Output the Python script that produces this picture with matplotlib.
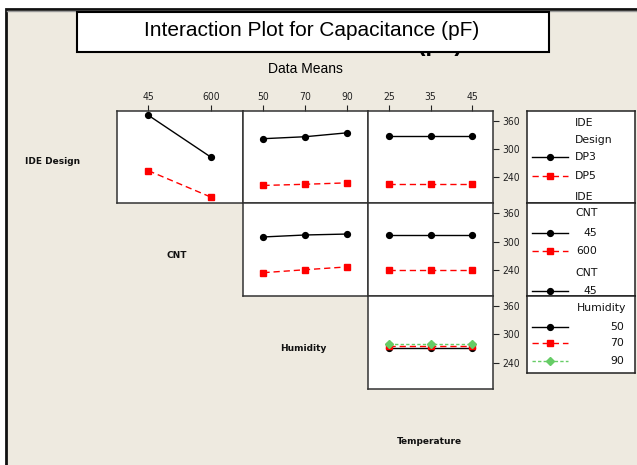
import matplotlib.pyplot as plt
from matplotlib.lines import Line2D
from matplotlib.patches import Rectangle
from matplotlib.transforms import Bbox

W, H = 637, 465

factor_names = ['IDE Design', 'CNT', 'Humidity', 'Temperature']
ide_levels = ['DP3', 'DP5']
cnt_levels = [45, 600]
hum_levels = [50, 70, 90]
temp_levels = [25, 35, 45]

# data means: one list per trace level, one value per x level
ide_cnt = [[371.3, 281.9], [253.4, 197.0]]
ide_hum = [[321.5, 325.7, 334.0], [222.0, 224.5, 227.5]]
ide_temp = [[327.2, 327.2, 327.2], [225.1, 225.1, 225.1]]
cnt_hum = [[309.8, 314.0, 316.0], [233.7, 240.0, 246.0]]
cnt_temp = [[314.0, 314.0, 314.0], [240.0, 240.0, 240.0]]
hum_temp = [[272.0, 272.0, 272.0], [274.5, 274.5, 274.5], [279.5, 279.5, 279.5]]

y_ticks = [240, 300, 360]

beige = '#EEEAE0'

styles = [dict(color='black', marker='o', ls='-', ms=4.2, lw=1.0),
          dict(color='red', marker='s', ls=(0, (4.5, 2.8)), ms=3.8, lw=1.0),
          dict(color='#66CC66', marker='D', ls=(0, (2.4, 1.6)), ms=3.8, lw=1.0)]


def px_axes(x0, y0, x1, y1):
    return fig.add_axes([x0 / W, 1 - y1 / H, (x1 - x0) / W, (y1 - y0) / H])


def ftext(x, y, s, **kw):
    return fig.text(x / W, 1 - y / H, s, **kw)


fig = plt.figure(figsize=(W / 100, H / 100), dpi=100, facecolor='white')

# outer frame
fig.add_artist(Rectangle((6 / W, -0.1), 1.1, 1 - 9 / H + 0.1, transform=fig.transFigure,
                         facecolor=beige, edgecolor='#111111', lw=2, zorder=0))
fig.add_artist(Line2D([7 / W, 1], [1 - 11 / H, 1 - 11 / H], transform=fig.transFigure,
                      color='#999999', lw=1, zorder=0.5))

# original bold title, mostly hidden by the title box (only its lower edge shows)
hidden = ftext(462, 51.5, 'Interaction Plot for Capacitance (pF)', ha='right', va='baseline',
               fontsize=17, fontweight='bold', family='Liberation Sans', zorder=1)
hidden.set_clip_box(Bbox([[400, H - 58], [465, H - 52.8]]))
hidden.set_clip_on(True)

fig.add_artist(Rectangle((77 / W, 1 - 52 / H), 472 / W, 40 / H, transform=fig.transFigure,
                         facecolor='white', edgecolor='black', lw=1.5, zorder=2))
ftext(312, 31, 'Interaction Plot for Capacitance (pF)', ha='center', va='center',
      fontsize=15, family='Liberation Sans', zorder=3)
ftext(305, 69, 'Data Means', ha='center', va='center', fontsize=10, family='Liberation Sans')

col_x = [117, 242.5, 368, 493]
row_y = [110.5, 203.3, 296, 389]

panels = [(0, 0, cnt_levels, ide_cnt), (0, 1, hum_levels, ide_hum),
          (0, 2, temp_levels, ide_temp), (1, 1, hum_levels, cnt_hum),
          (1, 2, temp_levels, cnt_temp), (2, 2, temp_levels, hum_temp)]

tick_font = dict(family='DejaVu Sans', stretch='condensed', size=7.5)

for r, c, xlev, means in panels:
    ax = px_axes(col_x[c], row_y[r], col_x[c + 1], row_y[r + 1])
    pos = list(range(1, len(xlev) + 1))
    for k, m in enumerate(means):
        ax.plot(pos, m, **styles[k])
    ax.set_xlim(0.5, len(xlev) + 0.5)
    ax.set_ylim(184, 381.5)
    for sp in ax.spines.values():
        sp.set_color('#333333')
        sp.set_linewidth(1.1)
    if r == 0:
        ax.xaxis.tick_top()
        ax.set_xticks(pos)
        ax.set_xticklabels([str(v) for v in xlev], fontdict=tick_font)
        ax.tick_params(axis='x', direction='out', length=4, pad=2, colors='#222222')
    else:
        ax.set_xticks([])
    if c == 2:
        ax.yaxis.tick_right()
        ax.set_yticks(y_ticks)
        ax.set_yticklabels([str(v) for v in y_ticks], fontdict=tick_font)
        ax.tick_params(axis='y', direction='out', length=4, pad=3, colors='#222222')
    else:
        ax.set_yticks([])

# factor names on the diagonal
for (x, y), name in zip([(53, 162), (177, 255), (303, 348), (429, 441)], factor_names):
    ftext(x, y, name, ha='center', va='center', fontsize=6.5, fontweight='bold',
          family='DejaVu Sans', color='#111111')


def legend_box(y0, y1):
    lg = px_axes(527, y0, 635, y1)
    lg.set_xlim(0, 108)
    lg.set_ylim(y1 - y0, 0)
    lg.set_xticks([])
    lg.set_yticks([])
    lg.set_facecolor('white')
    for sp in lg.spines.values():
        sp.set_color('#222222')
        sp.set_linewidth(1.1)
    return lg


def handle(lg, y, k):
    st = styles[k]
    lg.plot([5, 41], [y, y], color=st['color'], ls=st['ls'], lw=st['lw'])
    lg.plot([23], [y], color=st['color'], marker=st['marker'], ms=st['ms'], ls='none')


lkw = dict(fontsize=7.8, family='DejaVu Sans', va='center', clip_on=True, color='#111111')

lg1 = legend_box(110.7, 203)
lg1.text(48, 12, 'IDE', **lkw)
lg1.text(48, 29.3, 'Design', **lkw)
for k, (lab, y) in enumerate(zip(ide_levels, [46.6, 65.3])):
    handle(lg1, y, k)
    lg1.text(48, y, lab, **lkw)
lg1.text(48, 86, 'IDE', **lkw)

lg2 = legend_box(203, 296)
lg2.text(48, 10, factor_names[1], **lkw)
for k, (lab, y) in enumerate(zip(cnt_levels, [29.7, 47.7])):
    handle(lg2, y, k)
    lg2.text(70, y, str(lab), ha='right', **lkw)
lg2.text(48, 70, factor_names[1], **lkw)
handle(lg2, 87.7, 0)
lg2.text(70, 87.7, str(cnt_levels[0]), ha='right', **lkw)

lg3 = legend_box(296, 372.7)
lg3.text(50, 11.7, factor_names[2], **lkw)
for k, (lab, y) in enumerate(zip(hum_levels, [30.7, 47.0, 64.7])):
    handle(lg3, y, k)
    lg3.text(97, y, str(lab), ha='right', **lkw)

fig.savefig('out.png', dpi=100, facecolor='white')
